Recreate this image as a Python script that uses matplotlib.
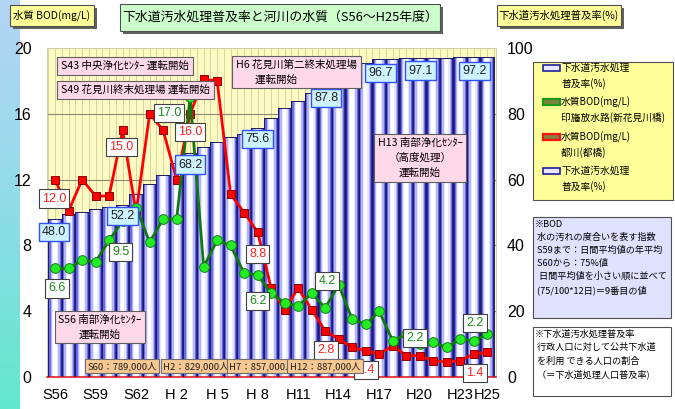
import numpy as np
import matplotlib
matplotlib.use("Agg")
import matplotlib.pyplot as plt
from matplotlib.patches import Rectangle
from matplotlib.colors import LinearSegmentedColormap

plt.rcParams['font.family'] = ['Noto Sans CJK JP', 'DejaVu Sans']

# fiscal years S56 .. H25
years = ['S56', 'S57', 'S58', 'S59', 'S60', 'S61', 'S62', 'S63',
         'H1', 'H2', 'H3', 'H4', 'H5', 'H6', 'H7', 'H8', 'H9', 'H10',
         'H11', 'H12', 'H13', 'H14', 'H15', 'H16', 'H17', 'H18', 'H19',
         'H20', 'H21', 'H22', 'H23', 'H24', 'H25']
tick_idx = [0, 3, 6, 9, 12, 15, 18, 21, 24, 27, 30, 32]
tick_labels = ['S56', 'S59', 'S62', 'H 2', 'H 5', 'H 8', 'H11', 'H14',
               'H17', 'H20', 'H23', 'H25']

# sewer coverage (%)
coverage = [48.0, 49.5, 50.3, 51.0, 51.7, 52.2, 55.6, 58.7, 61.5, 65.0,
            68.2, 70.0, 71.3, 72.8, 73.8, 75.6, 78.6, 81.7, 84.0, 86.3,
            87.8, 92.9, 95.0, 95.5, 96.7, 96.8, 96.9, 97.1, 97.1, 97.1,
            97.2, 97.2, 97.2]
# BOD (mg/L) Inba drainage (Shin-Hanamigawa bridge)
bod_inba = [6.6, 6.6, 7.1, 7.0, 8.3, 9.5, 10.3, 8.2, 9.6, 9.6,
            17.0, 6.7, 8.3, 8.0, 6.3, 6.2, 5.1, 4.5, 4.3, 5.1,
            4.2, 5.6, 3.5, 3.2, 4.0, 2.2, 2.6, 2.0, 2.1, 1.8,
            2.3, 2.2, 2.6]
# BOD (mg/L) Miyako river (Miyako bridge)
bod_miyako = [12.0, 10.1, 12.0, 11.0, 11.0, 15.0, 10.0, 16.0, 15.0, 12.0,
              16.0, 18.1, 18.0, 11.1, 10.0, 8.8, 5.4, 4.1, 5.4, 4.1,
              2.8, 2.3, 1.8, 1.6, 1.4, 1.9, 1.3, 1.3, 1.0, 0.9,
              1.0, 1.4, 1.5]

# labelled points: (index, dx px, dy px below the point)
cov_labels = [(0, -1, 13), (5, 0, 11), (10, 0, 12), (15, 0, 11),
              (20, 1, 10), (24, 1, 14), (27, 1, 13), (31, 1, 14)]
miyako_labels = [(0, -1, 19), (5, -1, 17), (10, 0, 18), (15, 0, 22),
                 (20, 1, 19), (24, -13, 16), (31, 1, 19)]
inba_labels = [(0, 2, 20), (5, -2, 31), (10, -21, 16), (15, 0, 26),
               (20, 2, -27), (25, 22, -3), (31, 1, -18)]

population = ['S60：789,000人', 'H2：829,000人', 'H7：857,000人', 'H12：887,000人']
pop_pos = [(122, 366), (196, 366), (262, 366), (325, 366)]

W, H = 675, 409
fig = plt.figure(figsize=(6.75, 4.09), dpi=100)
fig.patch.set_facecolor('white')


def fx(x, y):
    return (x / W, 1 - y / H)


def rect(x0, y0, x1, y1, **kw):
    # rectangle given in pixel coords from the top-left corner
    fig.patches.append(Rectangle(fx(x0, y1), (x1 - x0) / W, (y1 - y0) / H,
                                 transform=fig.transFigure, **kw))


# left gradient strip
strip = fig.add_axes([0, 0, 20 / W, 1])
grad = np.linspace(0, 1, 256).reshape(-1, 1)
cm = LinearSegmentedColormap.from_list('s', ['#b4d4f4', '#90dce8', '#62e8cc'])
strip.imshow(grad, aspect='auto', cmap=cm)
strip.axis('off')

x = np.arange(len(years))
L, R, T, B = 47, 496, 48, 377
ax1 = fig.add_axes([L / W, 1 - B / H, (R - L) / W, (B - T) / H])
ax1.set_facecolor('#fdfbc4')
ax1.set_xlim(-0.6, 32.65)
ax1.set_ylim(0, 100)
for v in np.arange(-0.5, 33, 0.5):
    ax1.axvline(v, color='#d8cc98', lw=0.6, zorder=0)
for v in [20, 40, 60, 80]:
    ax1.axhline(v, color='#8a8a70', lw=0.8, zorder=0.5)

bar_layers = [(1.0, '#2a2a98'), (0.84, '#6a6ae8'), (0.66, '#b4b4f8'),
              (0.46, '#e8e8ff'), (0.26, '#ffffff')]
for w, c in bar_layers:
    ax1.bar(x, coverage, width=w, color=c, zorder=2, linewidth=0)
ax1.bar(x, coverage, width=1.0, fill=False, edgecolor='#1c1c60', lw=0.7, zorder=3)

nf = ['Liberation Sans', 'DejaVu Sans']
ax1.set_xticks(tick_idx)
ax1.set_xticklabels(tick_labels)
ax1.tick_params(axis='x', length=0, pad=8, labelsize=10.5)
for s in ['top', 'left', 'right']:
    ax1.spines[s].set_color('#c8c8a0')
    ax1.spines[s].set_linewidth(0.6)
ax1.spines['bottom'].set_color('#e02020')
ax1.spines['bottom'].set_linewidth(1.2)

ax2 = ax1.twinx()
ax2.set_ylim(0, 20)
ax2.yaxis.tick_left()
ax2.set_yticks([0, 4, 8, 12, 16, 20])
ax2.tick_params(axis='y', length=0, pad=11, labelsize=11.5)
for s in ax2.spines.values():
    s.set_visible(False)

ax1.yaxis.tick_right()
ax1.set_yticks([0, 20, 40, 60, 80, 100])
ax1.tick_params(axis='y', length=0, pad=8, labelsize=11.5)
for lab in ax1.get_xticklabels() + ax1.get_yticklabels() + ax2.get_yticklabels():
    lab.set_family(nf)

ax2.plot(x, bod_miyako, color='#ff0000', lw=2.0, marker='s', ms=6,
         mfc='#ff0000', mec='#8a0000', mew=0.7, zorder=4)
ax2.plot(x, bod_inba, color='#107a10', lw=2.0, marker='o', ms=7,
         mfc='#22ee22', mec='#1a7a1a', mew=0.7, zorder=5)

for i, dx, dy in miyako_labels:
    ax2.annotate(f'{bod_miyako[i]:.1f}', (x[i], bod_miyako[i]),
                 xytext=(dx * 0.72, -dy * 0.72), textcoords='offset points',
                 ha='center', va='center', fontsize=9, color='#ff2020', family=nf,
                 bbox=dict(boxstyle='square,pad=0.25', fc='white', ec='#404040', lw=0.8),
                 zorder=8)
for i, dx, dy in inba_labels:
    ax2.annotate(f'{bod_inba[i]:.1f}', (x[i], bod_inba[i]),
                 xytext=(dx * 0.72, -dy * 0.72), textcoords='offset points',
                 ha='center', va='center', fontsize=9, color='#1a8a1a', family=nf,
                 bbox=dict(boxstyle='square,pad=0.25', fc='white', ec='#404040', lw=0.8),
                 zorder=8)
for i, dx, dy in cov_labels:
    ax2.annotate(f'{coverage[i]:.1f}', (x[i], coverage[i]), xycoords=ax1.transData,
                 xytext=(dx * 0.72, -dy * 0.72), textcoords='offset points',
                 ha='center', va='center', fontsize=9, color='#202020', family=nf,
                 bbox=dict(boxstyle='square,pad=0.25', fc='#cdf3ff', ec='#3050ff', lw=1.0),
                 zorder=8)

pink = dict(boxstyle='square,pad=0.35', fc='#ffd8ea', ec='#606060', lw=0.8)
notes = [
    ('S43 中央浄化ｾﾝﾀｰ 運転開始', 61, 66, 'left'),
    ('S49 花見川終末処理場 運転開始', 61, 90, 'left'),
    ('H6 花見川第二終末処理場\n        運転開始', 236, 72, 'left'),
    ('H13 南部浄化ｾﾝﾀｰ\n（高度処理）\n運転開始', 420, 158, 'center'),
    ('S56 南部浄化ｾﾝﾀｰ\n運転開始', 100, 327, 'center'),
]
for txt, px, py, ha in notes:
    fig.text(*fx(px, py), txt, ha=ha, va='center', fontsize=7.6,
             multialignment='center' if ha == 'center' else 'left',
             linespacing=1.6, bbox=pink, zorder=10)

for txt, (px, py) in zip(population, pop_pos):
    fig.text(*fx(px, py), txt, ha='center', va='center', fontsize=6.8,
             color='#202020', bbox=dict(boxstyle='square,pad=0.25', fc='#f8c892', ec='#707070', lw=0.8),
             zorder=10)


def boxed(x0, y0, x1, y1, txt, fs, fc):
    rect(x0 + 3, y0 + 3, x1 + 3, y1 + 3, fc='#606060', ec='none')
    rect(x0, y0, x1, y1, fc=fc, ec='#505050', lw=0.8)
    fig.text(*fx((x0 + x1) / 2, (y0 + y1) / 2), txt, ha='center', va='center',
             fontsize=fs, color='black')


boxed(120, 4, 440, 31, '下水道汚水処理普及率と河川の水質（S56～H25年度）', 9.3, '#ccffcc')
boxed(10, 5, 94, 26, '水質 BOD(mg/L)', 7.5, '#ffff99')
boxed(497, 5, 621, 26, '下水道汚水処理普及率(%)', 7.5, '#ffff99')

# legend
rect(533, 62, 673, 200, fc='#ffff99', ec='#505050', lw=0.8)
leg = [('bar', '下水道汚水処理', '普及率(%)', 68),
       ('#1a9a1a', '水質BOD(mg/L)', '印旛放水路(新花見川橋)', 102),
       ('#ff1010', '水質BOD(mg/L)', '都川(都橋)', 137),
       ('bar', '下水道汚水処理', '普及率(%)', 171)]
for kind, t1, t2, py in leg:
    if kind == 'bar':
        rect(543, py - 3, 560, py + 3, fc='#e8e8ff', ec='#2020a0', lw=1.2)
    else:
        rect(543, py - 3, 560, py + 3, fc='#808040', ec=kind, lw=1.6)
    fig.text(*fx(561, py), t1, ha='left', va='center', fontsize=7)
    fig.text(*fx(561, py + 16), t2, ha='left', va='center', fontsize=7)

note1 = ('※BOD\n 水の汚れの度合いを表す指数\n S59まで：日間平均値の年平均\n S60から：75%値\n'
         '  日間平均値を小さい順に並べて\n (75/100*12日)＝9番目の値')
note2 = '※下水道汚水処理普及率\n 行政人口に対して公共下水道\n を利用 できる人口の割合\n （＝下水道処理人口普及率)'
rect(533, 217, 671, 318, fc='#e0e0ff', ec='#505050', lw=0.8)
fig.text(*fx(535, 220), note1, ha='left', va='top', fontsize=6.6, linespacing=1.55)
rect(533, 327, 671, 396, fc='white', ec='#505050', lw=0.8)
fig.text(*fx(535, 330), note2, ha='left', va='top', fontsize=6.6, linespacing=1.55)

fig.savefig('out.png', dpi=100)
